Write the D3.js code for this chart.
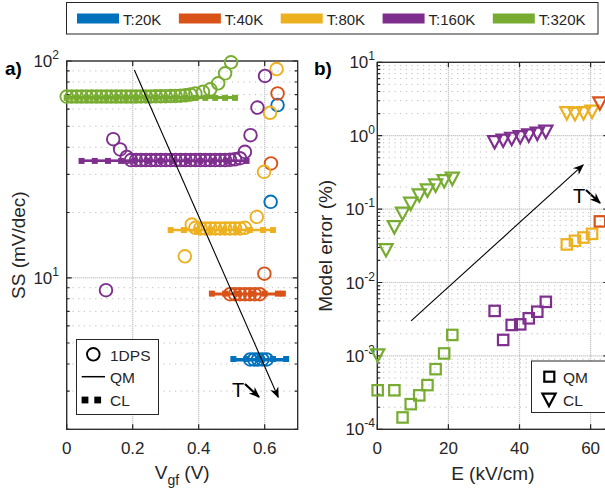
<!DOCTYPE html>
<html>
<head>
<meta charset="utf-8">
<script src="https://cdn.jsdelivr.net/npm/d3@7"></script>
<style>
  body { margin: 0; background: #fff; }
  text { font-family: "Liberation Sans", Arial, sans-serif; fill: #262626; }
</style>
</head>
<body>
<svg id="chart" width="605" height="495"></svg>
<script>
// ---------------- data ----------------
const tempLabels = ["T:20K", "T:40K", "T:80K", "T:160K", "T:320K"];
const tempColors = ["#0072BD", "#D95319", "#EDB120", "#7E2F8E", "#77AC30"];

// panel a: 1DPS circles [Vgf, SS]
const dps20K = [[0.556, 4.2], [0.568, 4.2], [0.58, 4.2], [0.593, 4.2], [0.606, 4.2], [0.618, 22.4], [0.639, 62.6]];
const dps40K = [[0.495, 8.4], [0.51, 8.4], [0.525, 8.4], [0.54, 8.4], [0.555, 8.4], [0.57, 8.4], [0.585, 8.4],
  [0.599, 10.45], [0.619, 33.7], [0.639, 70.9]];
const dps80K = [[0.358, 12.56], [0.379, 17.6], [0.39, 17.0], [0.405, 16.9], [0.42, 16.9], [0.435, 16.9], [0.45, 16.9],
  [0.465, 16.9], [0.48, 16.9], [0.495, 16.9], [0.51, 16.9], [0.525, 16.9], [0.54, 17.0], [0.576, 19.1],
  [0.598, 30.8], [0.616, 57.7], [0.636, 91.8]];
const dps160K = [[0.119, 8.77], [0.141, 43.6], [0.162, 39.1], [0.182, 36.1], [0.195, 34.9], [0.21, 34.9],
  [0.225, 34.9], [0.24, 34.9], [0.255, 34.9], [0.27, 34.9], [0.285, 34.9], [0.3, 34.9], [0.315, 34.9],
  [0.33, 34.9], [0.345, 34.9], [0.36, 34.9], [0.375, 34.9], [0.39, 34.9], [0.405, 34.9], [0.42, 34.9],
  [0.435, 34.9], [0.45, 34.9], [0.465, 34.9], [0.48, 34.9], [0.495, 35.0], [0.51, 35.2], [0.525, 35.6],
  [0.54, 38.1], [0.557, 45.5], [0.578, 61], [0.601, 85.3]];
const dps320K = [[0.0, 68.5], [0.015, 68.5], [0.03, 68.5], [0.045, 68.5], [0.06, 68.5], [0.075, 68.5],
  [0.09, 68.5], [0.105, 68.5], [0.12, 68.5], [0.135, 68.5], [0.15, 68.5], [0.165, 68.5], [0.18, 68.5],
  [0.195, 68.5], [0.21, 68.5], [0.225, 68.6], [0.24, 68.6], [0.255, 68.6], [0.27, 68.7], [0.285, 68.7],
  [0.3, 68.8], [0.315, 68.9], [0.33, 69.0], [0.345, 69.2], [0.36, 69.5], [0.375, 70.0], [0.39, 70.8],
  [0.413, 72.1], [0.435, 74.0], [0.459, 78.9], [0.48, 87.7], [0.498, 98.6]];

// panel a: CL squares [Vgf, SS]
const cl20K = [[0.505, 4.22], [0.545, 4.22], [0.585, 4.22], [0.625, 4.22], [0.665, 4.22]];
const cl40K = [[0.44, 8.45], [0.48, 8.45], [0.52, 8.45], [0.56, 8.45], [0.6, 8.45], [0.64, 8.45], [0.655, 8.45]];
const cl80K = [[0.315, 16.6], [0.355, 16.6], [0.395, 16.6], [0.435, 16.6], [0.475, 16.6], [0.515, 16.6],
  [0.555, 16.6], [0.595, 16.6], [0.625, 16.6]];
const cl160K = [[0.045, 34.6], [0.085, 34.6], [0.125, 34.6], [0.165, 34.6], [0.205, 34.6], [0.245, 34.6],
  [0.285, 34.6], [0.325, 34.6], [0.365, 34.6], [0.405, 34.6], [0.445, 34.6], [0.485, 34.6], [0.545, 34.6]];
const cl320K = [[0.0, 67.6], [0.03, 67.6], [0.06, 67.6], [0.09, 67.6], [0.12, 67.6], [0.15, 67.6], [0.18, 67.6],
  [0.21, 67.6], [0.24, 67.6], [0.27, 67.6], [0.3, 67.6], [0.33, 67.6], [0.36, 67.6], [0.39, 67.6],
  [0.42, 67.6], [0.45, 67.6], [0.48, 67.6], [0.51, 67.6]];

// panel a: QM lines [Vgf start, Vgf end, SS]
const qmLines = [[0.50, 0.665, 4.15], [0.44, 0.655, 8.35], [0.31, 0.63, 16.7], [0.045, 0.55, 34.8], [0.0, 0.51, 68.3]];

// panel b: model error (%) vs E (kV/cm)
const errE320K = [0.1, 2.45, 4.8, 7.1, 9.4, 11.8, 14.1, 16.4, 18.8, 21.1];
const errQM320K = [3.4e-4, null, 3.4e-4, 1.45e-4, 2.2e-4, 2.9e-4, 4.0e-4, 6.6e-4, 1.08e-3, 1.93e-3];
const errCL320K = [1.03e-3, 0.028, 0.0575, 0.088, 0.12, 0.156, 0.182, 0.213, 0.244, 0.263];
const errE160K = [33.0, 35.4, 37.8, 40.2, 42.6, 45.0, 47.4];
const errQM160K = [4.1e-3, 1.65e-3, 2.64e-3, 2.69e-3, 3.25e-3, 4.0e-3, 5.45e-3];
const errCL160K = [0.83, 0.87, 0.92, 0.97, 1.02, 1.08, 1.15];
const errE80K = [53.3, 55.6, 58.0, 60.4];
const errQM80K = [0.033, 0.037, 0.041, 0.046];
const errCL80K = [2.05, 2.0, 2.05, 2.15];
const errE40K = [62.6];
const errQM40K = [0.068];
const errCL40K = [2.8];

// annotation arrows, data units
const arrowA = [[0.205, 90.8], [0.641, 2.81]];
const arrowB = [[9.5, 3.0e-3], [57.9, 0.40]];

const xTicksA = [0, 0.2, 0.4, 0.6];
const yTicksA = [10, 100];
const xTicksB = [0, 20, 40, 60];
const yTicksB = [1e-4, 1e-3, 1e-2, 1e-1, 1, 10];

// ---------------- layout ----------------
const svg = d3.select("#chart");
const axisColor = "#262626";

const xA = d3.scaleLinear().domain([0, 0.7]).range([66.7, 297.7]);
const yA = d3.scaleLog().domain([2, 100]).range([429.3, 61]);
const xB = d3.scaleLinear().domain([0, 65]).range([377.3, 608.4]);
const yB = d3.scaleLog().domain([1e-4, 10]).range([429.3, 62.3]);

const defs = svg.append("defs");
defs.append("marker")
  .attr("id", "arrowhead")
  .attr("viewBox", "0 0 10 10")
  .attr("refX", 9).attr("refY", 5)
  .attr("markerWidth", 11).attr("markerHeight", 11)
  .attr("markerUnits", "userSpaceOnUse")
  .attr("orient", "auto")
  .append("path")
  .attr("d", "M0,1 L10,5 L0,9 L3,5 Z")
  .attr("fill", "#000");

function minorLog(domain) {
  let out = [];
  let lo = Math.floor(Math.log10(domain[0]));
  let hi = Math.ceil(Math.log10(domain[1]));
  for (let d = lo; d < hi; d++) {
    for (let k = 2; k <= 9; k++) {
      let v = k * Math.pow(10, d);
      if (v >= domain[0] && v <= domain[1]) out.push(v);
    }
  }
  return out;
}

function drawFrame(x, y, xTicks, yTicks, xFormat) {
  const g = svg.append("g");
  const [x0, x1] = x.range();
  const [y0, y1] = y.range();
  const yMinor = minorLog(y.domain());

  // grid
  g.selectAll(".gminor").data(yMinor).enter().append("line")
    .attr("x1", x0).attr("x2", x1)
    .attr("y1", d => y(d)).attr("y2", d => y(d))
    .attr("stroke", "#bdbdbd").attr("stroke-width", 1)
    .attr("stroke-dasharray", "1.2,4.5");
  g.selectAll(".gy").data(yTicks).enter().append("line")
    .attr("x1", x0).attr("x2", x1)
    .attr("y1", d => y(d)).attr("y2", d => y(d))
    .attr("stroke", "#b3b3b3").attr("stroke-width", 1.2)
    .attr("stroke-dasharray", "1,1");
  g.selectAll(".gx").data(xTicks).enter().append("line")
    .attr("x1", d => x(d)).attr("x2", d => x(d))
    .attr("y1", y0).attr("y2", y1)
    .attr("stroke", "#b3b3b3").attr("stroke-width", 1.2)
    .attr("stroke-dasharray", "1,1");

  // frame
  g.append("rect")
    .attr("x", x0).attr("y", y1)
    .attr("width", x1 - x0).attr("height", y0 - y1)
    .attr("fill", "none").attr("stroke", axisColor).attr("stroke-width", 1.3);

  // ticks
  g.selectAll(".tx").data(xTicks).enter().append("path")
    .attr("d", d => `M${x(d)},${y0}v-5M${x(d)},${y1}v5`)
    .attr("stroke", axisColor).attr("stroke-width", 1.2);
  g.selectAll(".ty").data(yTicks).enter().append("path")
    .attr("d", d => `M${x0},${y(d)}h5M${x1},${y(d)}h-5`)
    .attr("stroke", axisColor).attr("stroke-width", 1.2);
  g.selectAll(".tym").data(yMinor).enter().append("path")
    .attr("d", d => `M${x0},${y(d)}h3M${x1},${y(d)}h-3`)
    .attr("stroke", axisColor).attr("stroke-width", 1.1);

  // tick labels
  g.selectAll(".lx").data(xTicks).enter().append("text")
    .attr("x", d => x(d)).attr("y", 453.5)
    .attr("text-anchor", "middle")
    .attr("font-size", 17)
    .text(xFormat);
  return g;
}

function logLabels(g, y, ticks, xEnd) {
  const t = g.selectAll(".ly").data(ticks).enter().append("text")
    .attr("x", xEnd).attr("y", d => y(d) + 6)
    .attr("text-anchor", "end")
    .attr("font-size", 17);
  t.append("tspan").text("10");
  t.append("tspan")
    .attr("dy", -8).attr("font-size", 12)
    .text(d => String(Math.round(Math.log10(d))));
}

// ---------------- panel a ----------------
const gA = drawFrame(xA, yA, xTicksA, yTicksA, d => d === 0 ? "0" : d3.format(".1f")(d));
logLabels(gA, yA, yTicksA, 59);

const seriesA = [
  { dps: dps20K, cl: cl20K, qm: qmLines[0], color: tempColors[0] },
  { dps: dps40K, cl: cl40K, qm: qmLines[1], color: tempColors[1] },
  { dps: dps80K, cl: cl80K, qm: qmLines[2], color: tempColors[2] },
  { dps: dps160K, cl: cl160K, qm: qmLines[3], color: tempColors[3] },
  { dps: dps320K, cl: cl320K, qm: qmLines[4], color: tempColors[4] },
];

const lineA = d3.line().x(d => xA(d[0])).y(d => yA(d[1]));
seriesA.forEach(s => {
  const g = svg.append("g");
  g.append("line")
    .attr("x1", xA(s.qm[0])).attr("x2", xA(s.qm[1]))
    .attr("y1", yA(s.qm[2])).attr("y2", yA(s.qm[2]))
    .attr("stroke", s.color).attr("stroke-width", 1.6);
  g.append("path").attr("d", lineA(s.cl))
    .attr("fill", "none").attr("stroke", s.color).attr("stroke-width", 2.2);
  g.selectAll("rect").data(s.cl).enter().append("rect")
    .attr("x", d => xA(d[0]) - 3).attr("y", d => yA(d[1]) - 3)
    .attr("width", 6).attr("height", 6)
    .attr("fill", s.color);
  g.selectAll("circle").data(s.dps).enter().append("circle")
    .attr("cx", d => xA(d[0])).attr("cy", d => yA(d[1]))
    .attr("r", 6.3)
    .attr("fill", "none").attr("stroke", s.color).attr("stroke-width", 1.9);
});

svg.append("line")
  .attr("x1", xA(arrowA[0][0])).attr("y1", yA(arrowA[0][1]))
  .attr("x2", xA(arrowA[1][0])).attr("y2", yA(arrowA[1][1]))
  .attr("stroke", "#000").attr("stroke-width", 1.1)
  .attr("marker-end", "url(#arrowhead)");

function tLabel(x, y) {
  svg.append("text").attr("x", x).attr("y", y)
    .attr("font-size", 20).style("fill", "#000").text("T");
  svg.append("line")
    .attr("x1", x + 13).attr("y1", y - 13)
    .attr("x2", x + 27).attr("y2", y)
    .attr("stroke", "#000").attr("stroke-width", 2.2)
    .attr("marker-end", "url(#arrowhead)");
}
tLabel(232, 397);
tLabel(573, 203);

// panel a legend
const legA = svg.append("g");
legA.append("rect").attr("x", 76.5).attr("y", 339.5).attr("width", 82).attr("height", 75)
  .attr("fill", "#fff").attr("stroke", axisColor).attr("stroke-width", 1);
legA.append("circle").attr("cx", 93.3).attr("cy", 354.3).attr("r", 6.3)
  .attr("fill", "none").attr("stroke", "#000").attr("stroke-width", 1.9);
legA.append("line").attr("x1", 81.7).attr("x2", 105).attr("y1", 376.7).attr("y2", 376.7)
  .attr("stroke", "#000").attr("stroke-width", 1.5);
legA.selectAll(".sq").data([85, 97.7]).enter().append("rect")
  .attr("x", d => d - 3.4).attr("y", 396.6).attr("width", 6.8).attr("height", 6.8).attr("fill", "#000");
legA.selectAll("text").data(["1DPS", "QM", "CL"]).enter().append("text")
  .attr("x", 110).attr("y", (d, i) => 360.5 + i * 22.8)
  .attr("font-size", 15.5).text(d => d);

// ---------------- panel b ----------------
const gB = drawFrame(xB, yB, xTicksB, yTicksB, d => String(d));
logLabels(gB, yB, yTicksB, 375);

const triPath = "M-6.6,-5.6L6.6,-5.6L0,6.8Z";
const seriesB = [
  { e: errE320K, qm: errQM320K, cl: errCL320K, color: tempColors[4] },
  { e: errE160K, qm: errQM160K, cl: errCL160K, color: tempColors[3] },
  { e: errE80K, qm: errQM80K, cl: errCL80K, color: tempColors[2] },
  { e: errE40K, qm: errQM40K, cl: errCL40K, color: tempColors[1] },
];
seriesB.forEach(s => {
  const g = svg.append("g");
  const qmPts = s.e.map((e, i) => [e, s.qm[i]]).filter(d => d[1] != null);
  const clPts = s.e.map((e, i) => [e, s.cl[i]]);
  g.selectAll("rect").data(qmPts).enter().append("rect")
    .attr("x", d => xB(d[0]) - 5.2).attr("y", d => yB(d[1]) - 5.2)
    .attr("width", 10.4).attr("height", 10.4)
    .attr("fill", "none").attr("stroke", s.color).attr("stroke-width", 2.2);
  g.selectAll("path").data(clPts).enter().append("path")
    .attr("d", triPath)
    .attr("transform", d => `translate(${xB(d[0])},${yB(d[1])})`)
    .attr("fill", "none").attr("stroke", s.color).attr("stroke-width", 2.2)
    .attr("stroke-linejoin", "miter");
});

svg.append("line")
  .attr("x1", xB(arrowB[0][0])).attr("y1", yB(arrowB[0][1]))
  .attr("x2", xB(arrowB[1][0])).attr("y2", yB(arrowB[1][1]))
  .attr("stroke", "#000").attr("stroke-width", 1.1)
  .attr("marker-end", "url(#arrowhead)");

// panel b legend
const legB = svg.append("g");
legB.append("rect").attr("x", 531.5).attr("y", 361).attr("width", 90).attr("height", 51.5)
  .attr("fill", "#fff").attr("stroke", axisColor).attr("stroke-width", 1);
legB.append("rect").attr("x", 544.3).attr("y", 371.7).attr("width", 10).attr("height", 10)
  .attr("fill", "none").attr("stroke", "#000").attr("stroke-width", 2.2);
legB.append("path").attr("d", triPath).attr("transform", "translate(549,399.3)")
  .attr("fill", "none").attr("stroke", "#000").attr("stroke-width", 2.2);
legB.selectAll("text").data(["QM", "CL"]).enter().append("text")
  .attr("x", 563).attr("y", (d, i) => 383 + i * 23)
  .attr("font-size", 15.5).text(d => d);

// ---------------- axis titles, panel letters ----------------
const xTitleA = svg.append("text")
  .attr("x", (xA.range()[0] + xA.range()[1]) / 2).attr("y", 479)
  .attr("text-anchor", "middle").attr("font-size", 19);
xTitleA.append("tspan").text("V");
xTitleA.append("tspan").attr("dy", 6).attr("font-size", 14).text("gf");
xTitleA.append("tspan").attr("dy", -6).text(" (V)");

svg.append("text")
  .attr("x", (xB.range()[0] + xB.range()[1]) / 2).attr("y", 480)
  .attr("text-anchor", "middle").attr("font-size", 19)
  .text("E (kV/cm)");

svg.append("text")
  .attr("transform", `translate(25,${(yA.range()[0] + yA.range()[1]) / 2}) rotate(-90)`)
  .attr("text-anchor", "middle").attr("font-size", 19)
  .text("SS (mV/dec)");
svg.append("text")
  .attr("transform", `translate(332,${(yB.range()[0] + yB.range()[1]) / 2}) rotate(-90)`)
  .attr("text-anchor", "middle").attr("font-size", 19)
  .text("Model error (%)");

svg.append("text").attr("x", 5).attr("y", 75)
  .attr("font-size", 19).attr("font-weight", "bold").style("fill", "#000").text("a)");
svg.append("text").attr("x", 314).attr("y", 75)
  .attr("font-size", 19).attr("font-weight", "bold").style("fill", "#000").text("b)");

// ---------------- top legend ----------------
const legTop = svg.append("g");
legTop.append("rect").attr("x", 66.5).attr("y", 2.5).attr("width", 531.5).attr("height", 31.5)
  .attr("fill", "#fff").attr("stroke", axisColor).attr("stroke-width", 1);
let lx = 77;
tempLabels.forEach((lab, i) => {
  legTop.append("rect").attr("x", lx).attr("y", 13.5).attr("width", 42).attr("height", 10)
    .attr("fill", tempColors[i]);
  const t = legTop.append("text").attr("x", lx + 46).attr("y", 24.5)
    .attr("font-size", 15).text(lab);
  lx += 46 + t.node().getComputedTextLength() + 17.5;
});
</script>
</body>
</html>
